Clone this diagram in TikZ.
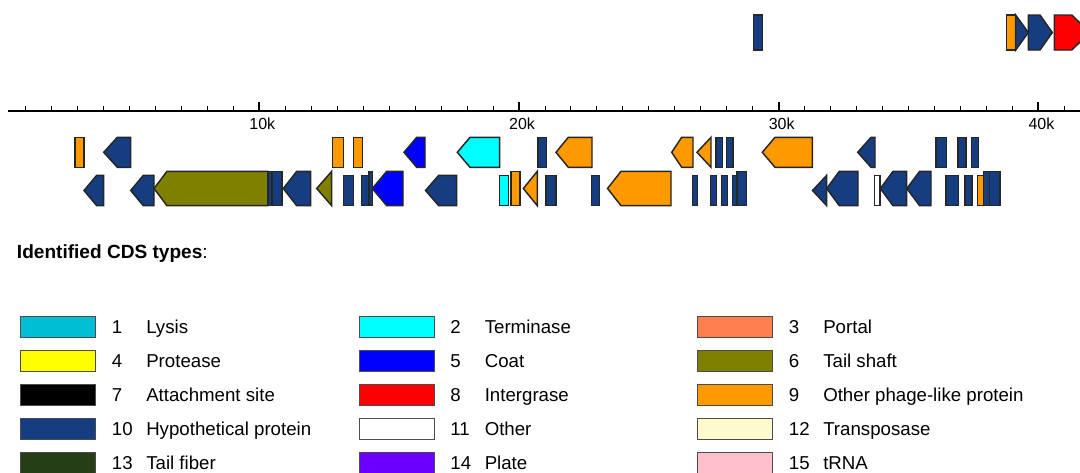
\documentclass[tikz,border=0pt]{standalone}
\usepackage{fontspec}
\setmainfont{Liberation Sans}
\definecolor{lysis}{RGB}{0,190,212}
\definecolor{terminase}{RGB}{0,255,255}
\definecolor{portal}{RGB}{255,127,80}
\definecolor{protease}{RGB}{255,255,0}
\definecolor{coat}{RGB}{0,0,255}
\definecolor{tailshaft}{RGB}{128,128,0}
\definecolor{attach}{RGB}{0,0,0}
\definecolor{intergrase}{RGB}{255,0,0}
\definecolor{phagelike}{RGB}{255,153,0}
\definecolor{hypo}{RGB}{22,61,128}
\definecolor{othercds}{RGB}{255,255,255}
\definecolor{transposase}{RGB}{255,250,205}
\definecolor{tailfiber}{RGB}{38,62,22}
\definecolor{plate}{RGB}{106,0,255}
\definecolor{trna}{RGB}{255,192,203}

\begin{document}
\begin{tikzpicture}[x=0.75pt,y=-0.75pt,
  gene/.style={draw=black!85,line width=1.1pt},
  swatch/.style={draw=black!70,line width=0.8pt},
  legtext/.style={anchor=base west,inner sep=0pt,font=\fontsize{14}{16}\selectfont}]

\useasboundingbox (0,0) rectangle (1080,472);
\clip (0,0) rectangle (1080,472);

% scale
\draw[line width=1.6pt] (8,110.7) -- (1080,110.7);
\foreach \k in {1,...,41}
  \draw[line width=0.7pt] ({25.97*\k-0.4},106) -- ({25.97*\k-0.4},110.7);
\foreach \k in {1,...,4}{
  \draw[line width=1.5pt] ({259.7*\k-0.4},102) -- ({259.7*\k-0.4},110.7);
  \node[anchor=base,inner sep=0pt,font=\fontsize{12}{14}\selectfont] (k\k) at ({259.7*\k+2.6},129) {\k0k};
}

% forward strand
\foreach \l/\s/\t/\col in {753.3/762.3/762.3/hypo, 1006.7/1015.7/1015.7/phagelike,
    1015.7/1015.7/1028.3/hypo, 1028.3/1040/1052.3/hypo, 1054.3/1071.7/1090/intergrase}
  \draw[gene,fill=\col] (\l,15) -- (\s,15) -- (\t,32.5) -- (\s,50) -- (\l,50) -- cycle;

% reverse strand, upper row
\foreach \t/\s/\r/\col in {75/75/84/phagelike, 103.7/117.3/130.7/hypo,
    332.3/332.3/343.3/phagelike, 353.3/353.3/362.3/phagelike, 404/416.7/425/coat,
    457.3/470/499.7/terminase, 538/538/546.7/hypo, 556/568.3/592/phagelike,
    671.7/681.7/693/phagelike, 697/711/711/phagelike, 716/716/722.3/hypo,
    726.7/726.7/733/hypo, 762.3/775/812.3/phagelike, 857.7/871/875/hypo,
    936/936/946.7/hypo, 958/958/966/hypo, 971.5/971.5/978.7/hypo}
  \draw[gene,fill=\col] (\t,152.3) -- (\s,137.3) -- (\r,137.3) -- (\r,167.3) -- (\s,167.3) -- cycle;

% reverse strand, lower row
\foreach \t/\s/\r/\y/\col in {84/96.7/103.7/175.3/hypo, 130.7/143.3/154/175.3/hypo,
    154/167/268/171.3/tailshaft, 268/268/272/171.3/hypo, 272/272/282/171.3/hypo,
    283.3/296.7/310.7/171.3/hypo, 316.7/331.7/331.7/171.3/tailshaft,
    343.3/343.3/353.3/175.3/hypo, 361.7/361.7/369/175.3/hypo, 369/369/372.3/171.3/hypo,
    372.3/386.7/403/171.3/coat, 425.5/438.7/456.7/175.3/hypo,
    499.3/499.3/508.5/175.3/terminase, 511.2/511.2/520/171.3/phagelike,
    523.3/537.3/537.3/171.3/phagelike, 546/546/556/175.3/hypo, 591.7/591.7/599.7/175.3/hypo,
    607.5/621/671/171.3/phagelike, 692.7/692.7/697.5/175.3/hypo,
    710.7/710.7/716.7/175.3/hypo, 721.7/721.7/727.3/175.3/hypo, 732.3/732.3/737/175.3/hypo,
    737/737/746.7/171.3/hypo, 812.5/826.7/826.7/175.3/hypo, 826.7/839.3/858/171.3/hypo,
    874.3/874.3/880/175.3/othercds, 880.3/893/906.7/171.3/hypo, 906.8/919.6/931/171.3/hypo,
    946/946/958.7/175.3/hypo, 965/965/972/175.3/hypo, 977.5/977.5/983.3/175.3/phagelike,
    983.3/983.3/989.5/171.3/hypo, 989.5/989.5/1000/171.3/hypo}
  \draw[gene,fill=\col] (\t,{(\y+205.7)/2}) -- (\s,\y) -- (\r,\y) -- (\r,205.7) -- (\s,205.7) -- cycle;

% legend
\node[anchor=base west,inner sep=0pt,font=\fontsize{14.3}{16}\selectfont] (title) at (16.7,258.3)
  {\textbf{Identified CDS types}:};
\foreach \n/\col/\lab [count=\i from 0,
    evaluate=\i as \cx using {20.7+338.5*mod(\i,3)},
    evaluate=\i as \cy using {316.7+34*int(\i/3)}] in
  {1/lysis/Lysis, 2/terminase/Terminase, 3/portal/Portal, 4/protease/Protease,
   5/coat/Coat, 6/tailshaft/Tail shaft, 7/attach/Attachment site, 8/intergrase/Intergrase,
   9/phagelike/Other phage-like protein, 10/hypo/Hypothetical protein, 11/othercds/Other,
   12/transposase/Transposase, 13/tailfiber/Tail fiber, 14/plate/Plate, 15/trna/tRNA}{
  \draw[swatch,fill=\col] (\cx,\cy) rectangle ++(75,20.6);
  \node[legtext] (num\n) at (\cx+91,\cy+16.8) {\n};
  \node[legtext] (lab\n) at (\cx+125.3,\cy+16.8) {\lab};
}

\end{tikzpicture}
\end{document}
